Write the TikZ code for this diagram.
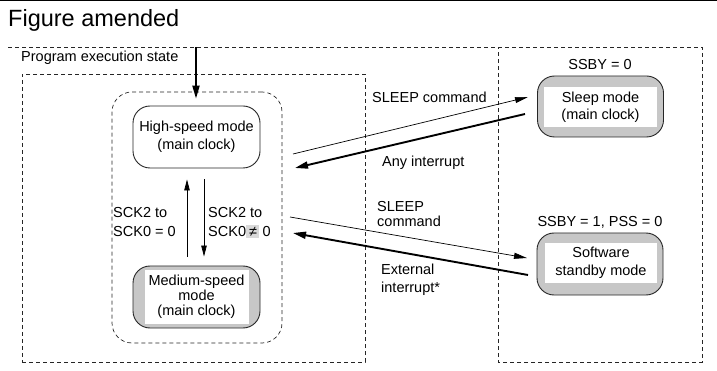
\documentclass[tikz,border=0pt]{standalone}
\usepackage{fontspec}
\setmainfont{Liberation Sans}
\usetikzlibrary{arrows.meta}
\begin{document}
\begin{tikzpicture}[x=1pt,y=-1pt,
  dashln/.style={line width=0.7pt, dash pattern=on 4pt off 3pt, black!85},
  lbl/.style={font=\fontsize{14.5}{18}\selectfont, inner sep=0pt},
  modebox/.style={draw=black!85, line width=0.9pt, rounded corners=17pt, minimum width=127pt, minimum height=62pt, inner sep=0pt},
  graybox/.style={modebox, fill=black!22},
  patch/.style={fill=white, inner sep=0pt, align=center},
  thinarr/.style={line width=0.7pt, -{Triangle[length=13pt,width=6pt]}},
  thickarr/.style={line width=1.9pt, -{Triangle[length=13pt,width=7pt]}},
  vertarr/.style={line width=0.8pt, -{Triangle[length=11pt,width=5.5pt]}},
]
\useasboundingbox (0,0) rectangle (717,371);
% top rule and title
\draw[line width=1.5pt] (0,0.75) -- (717,0.75);
\node[anchor=base west, inner sep=0pt, font=\fontsize{23.5}{28}\selectfont] (title) at (8,27) {Figure amended};
% frames
\draw[dashln] (8,47) -- (702,47) -- (702,362) -- (498,362) -- (498,47);
\node[draw, dashln, minimum width=343pt, minimum height=288pt, inner sep=0pt] (prog) at (193.5,218) {};
\node[draw, dashln, rounded corners=20pt, minimum width=170pt, minimum height=251pt, inner sep=0pt] (core) at (197,217.5) {};
\node[lbl, anchor=base west] (pes) at (21,62) {Program execution state};
% entry arrow
\coordinate (entry) at (196,47);
\draw[thickarr, shorten >=-7pt] (entry) -- (entry |- core.north);
% mode nodes
\node[modebox, fill=white, align=center, font=\fontsize{14.5}{18}\selectfont] (high) at (196.5,137) {High-speed mode\\(main clock)};
\node[graybox] (med) at (196.5,297) {};
\node[patch, minimum width=104pt, minimum height=54pt, font=\fontsize{14.5}{15}\selectfont] (medtxt) at (med.center) {Medium-speed\\mode\\(main clock)};
\node[graybox, minimum width=126pt, minimum height=61pt] (sleep) at (600.5,106.5) {};
\node[patch, minimum width=113pt, minimum height=40pt, font=\fontsize{14.5}{17}\selectfont] (sleeptxt) at (600.5,107) {Sleep mode\\(main clock)};
\node[lbl] (ssby0) at (600,65) {SSBY = 0};
\node[graybox, minimum width=126pt] (soft) at (600,264) {};
\node[patch, minimum width=112pt, minimum height=40pt, font=\fontsize{14.5}{18}\selectfont] (softtxt) at (601,263) {Software\\standby mode};
\node[lbl] (ssby1) at (600,222) {SSBY = 1, PSS = 0};
% vertical transitions
\coordinate (upx) at (187,0);
\coordinate (dnx) at (204,0);
\draw[vertarr, shorten <=9pt, shorten >=11pt] (upx |- med.north) -- (upx |- high.south);
\draw[vertarr, shorten <=11pt, shorten >=9pt] (dnx |- high.south) -- (dnx |- med.north);
\node[lbl, anchor=north west, align=left, font=\fontsize{14.5}{19}\selectfont] (sckup) at (113,207.5) {SCK2 to\\SCK0 = 0};
\node[lbl, anchor=north west, align=left, font=\fontsize{14.5}{19}\selectfont] (sckdn) at (208,207.5) {SCK2 to\\SCK0{\setlength{\fboxsep}{0pt}\colorbox{black!15}{\rule[-1pt]{0pt}{13pt}\hspace{3pt}≠\hspace{1.5pt}}} 0};
% diagonal transitions
\coordinate (s1a) at (293,154);
\coordinate (s1b) at (528,97);
\coordinate (i1a) at (525,114);
\coordinate (i1b) at (295,168);
\coordinate (s2a) at (290,217);
\coordinate (s2b) at (527,258);
\coordinate (e2a) at (528,275);
\coordinate (e2b) at (293,233);
\draw[thinarr] (s1a) -- (s1b);
\draw[thickarr] (i1a) -- (i1b);
\draw[thinarr] (s2a) -- (s2b);
\draw[thickarr] (e2a) -- (e2b);
\node[lbl, anchor=base west] (lsleep1) at (372,103) {SLEEP command};
\node[lbl, anchor=base west] (lany) at (382,167) {Any interrupt};
\node[lbl, anchor=north west, align=left, font=\fontsize{14.5}{15}\selectfont] (lsleep2) at (377,201.5) {SLEEP\\command};
\node[lbl, anchor=north west, align=left, font=\fontsize{14.5}{18}\selectfont] (lext) at (381,263.5) {External\\interrupt*};
\end{tikzpicture}
\end{document}
